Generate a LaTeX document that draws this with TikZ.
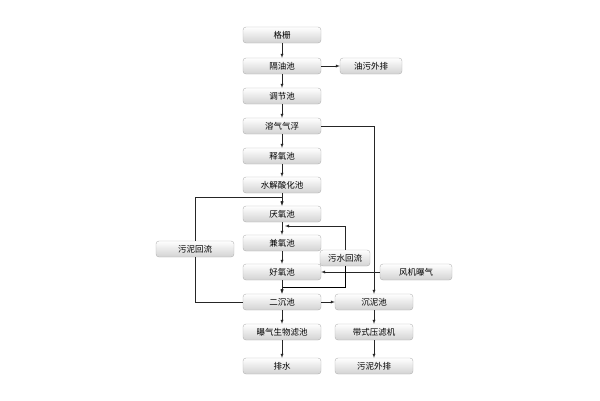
\documentclass[tikz,border=0pt]{standalone}
\usepackage{fontspec}
\setmainfont{Noto Sans CJK SC}
\usetikzlibrary{positioning}
\tikzset{
  stage/.style={rounded corners=3pt, draw=gray!60, top color=white, bottom color=gray!35,
    minimum width=78pt, minimum height=16pt, inner sep=1pt, font=\fontsize{8.5}{9}\selectfont},
  flow/.style={-latex, thin, gray!30!black}
}
\begin{document}
\begin{tikzpicture}[x=1pt,y=-1pt]
    \useasboundingbox (0,0) rectangle (600,400);
    % Main line
    \node[stage] (gs) at (282,35) {格栅};
    \node[stage] (gy) at (282,66) {隔油池};
    \node[stage] (tj) at (282,96) {调节池};
    \node[stage] (rq) at (282,126) {溶气气浮};
    \node[stage] (sy) at (282,156) {释氧池};
    \node[stage] (sj) at (282,185) {水解酸化池};
    \node[stage] (ya) at (282,214) {厌氧池};
    \node[stage] (jy) at (282,243) {兼氧池};
    \node[stage] (hy) at (282,272) {好氧池};
    \node[stage] (ec) at (282,302) {二沉池};
    \node[stage] (bq) at (282,332) {曝气生物滤池};
    \node[stage] (ps) at (282,366) {排水};
    % Side boxes
    \node[stage, minimum width=62pt] (yw) at (371,66) {油污外排};
    \node[stage] (cn) at (374,302) {沉泥池};
    \node[stage] (dy) at (374,332) {带式压滤机};
    \node[stage] (wp) at (374,366) {污泥外排};
    \node[stage] (wn) at (195,249) {污泥回流};
    \node[stage, minimum width=50pt] (ws) at (345,258) {污水回流};
    \node[stage, minimum width=72pt] (fj) at (416,272) {风机曝气};
    % Main flow
    \foreach \a/\b in {gs/gy,gy/tj,tj/rq,rq/sy,sy/sj,sj/ya,ya/jy,jy/hy,hy/ec,ec/bq,bq/ps,cn/dy,dy/wp}
      \draw[flow] (\a) -- (\b);
    \draw[flow] (gy) -- (yw);
    \draw[flow] (ec) -- (cn);
    \draw[flow] (rq.east) -| (cn.north);
    \draw[flow] (fj) -- (hy);
    % Returns
    \draw[flow] (ec.west) -| (wn.south) (wn.north) |- (282,197) -- (282,205);
    \draw (ws.south) |- (282,287);
    \draw[flow] (282,287) -- (282,293);
    \draw[flow] (ws.north) |- (285,226);
  \end{tikzpicture}
\end{document}
